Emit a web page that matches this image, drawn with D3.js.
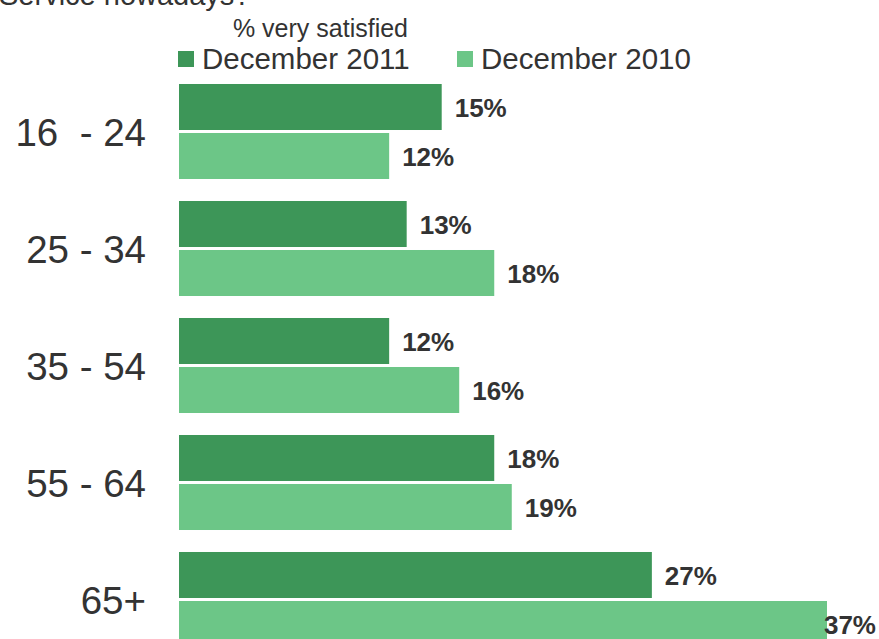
<!DOCTYPE html>
<html><head><meta charset="utf-8">
<script src="https://cdn.jsdelivr.net/npm/d3@7"></script>
<style>body{margin:0;background:#fff}svg{display:block;font-family:Arial,"Liberation Sans",sans-serif}text{white-space:pre}</style>
</head><body><svg id="c" width="879" height="639"></svg>
<script>
const categories = ["16  - 24", "25 - 34", "35 - 54", "55 - 64", "65+"];
const seriesNames = ["December 2011", "December 2010"];
const dec2011 = [15, 13, 12, 18, 27];
const dec2010 = [12, 18, 16, 19, 37];
const colors = ["#3d9658", "#6cc687"];
const titleText = "Service nowadays?";
const legendTitle = "% very satisfied";

const svg = d3.select("#c");
const textColor = "#333333";

const x = d3.scaleLinear().domain([0, 37]).range([179, 827]);
const y0 = d3.scaleBand().domain(categories).range([73, 658]).paddingInner(0.188).paddingOuter(0.094);
const y1 = d3.scaleBand().domain(seriesNames).range([0, y0.bandwidth()]).paddingInner(0.061);

const data = categories.map((c, i) => ({cat: c, vals: [dec2011[i], dec2010[i]]}));

// partial title at top
svg.append("text").attr("x", -1).attr("y", 5).attr("font-size", 29).attr("fill", textColor).text(titleText);

// legend
svg.append("text").attr("x", 408).attr("y", 37).attr("text-anchor", "end").attr("font-size", 25).attr("fill", textColor).text(legendTitle);
const legX = [178, 457];
seriesNames.forEach((s, i) => {
  svg.append("rect").attr("x", legX[i]).attr("y", 51).attr("width", 16).attr("height", 16).attr("fill", colors[i]);
  svg.append("text").attr("x", legX[i] + 24).attr("y", 69).attr("font-size", 29.5).attr("fill", textColor).text(s);
});

// category labels
svg.selectAll("text.cat").data(categories).join("text").attr("class", "cat")
  .attr("x", 146).attr("y", d => y0(d) + y0.bandwidth() / 2 + 14)
  .attr("text-anchor", "end").attr("font-size", 38.5).attr("fill", textColor).text(d => d);

const g = svg.selectAll("g.grp").data(data).join("g").attr("class", "grp")
  .attr("transform", d => `translate(0,${y0(d.cat)})`);

g.selectAll("rect").data(d => d.vals.map((v, i) => ({v, s: seriesNames[i], i}))).join("rect")
  .attr("x", x(0)).attr("y", d => y1(d.s)).attr("width", d => x(d.v) - x(0)).attr("height", y1.bandwidth())
  .attr("fill", d => colors[d.i]);

g.selectAll("text.val").data(d => d.vals.map((v, i) => ({v, s: seriesNames[i], i}))).join("text")
  .attr("class", "val")
  .attr("y", d => y1(d.s) + y1.bandwidth() / 2 + 10)
  .attr("font-size", 26).attr("font-weight", "bold").attr("fill", textColor)
  .text(d => d.v + "%")
  .each(function(d) {
    const w = this.getComputedTextLength();
    let px = x(d.v) + 13;
    if (px + w > 876) px = 876 - w;
    d3.select(this).attr("x", px);
  });
</script></body></html>
